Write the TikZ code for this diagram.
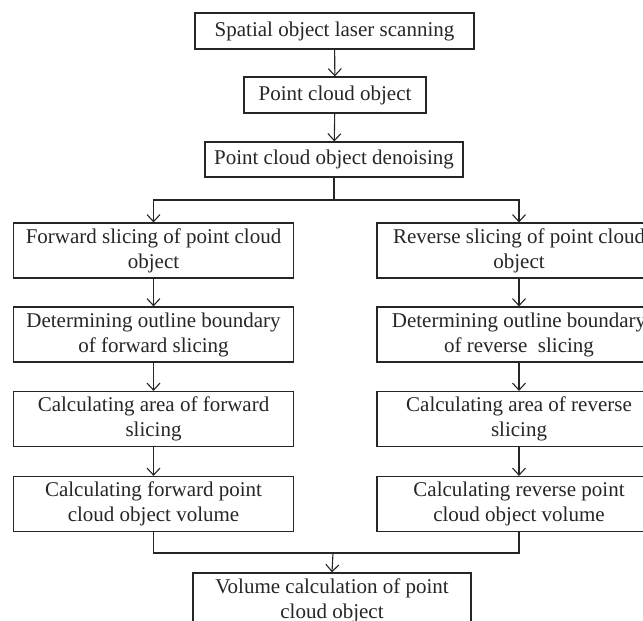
\documentclass[tikz,border=0pt]{standalone}
\usepackage{fontspec}
\setmainfont{Liberation Serif}
\usetikzlibrary{arrows.meta}
\begin{document}
\begin{tikzpicture}[x=1pt,y=-1pt,
  box/.style={draw=black!85, line width=1.2pt, inner sep=0pt, align=center,
    font=\fontsize{21}{25}\selectfont, text=black!85},
  wbox/.style={box, minimum width=280pt, minimum height=55pt},
  arr/.style={draw=black!85, line width=1.1pt, -{Straight Barb[length=7pt,width=13pt,line width=1.1pt]}},
  ln/.style={draw=black!85, line width=1.1pt}]
\useasboundingbox (0,0) rectangle (643,621);
\clip (0,0) rectangle (643,621);
\fill[white] (0,0) rectangle (643,621);
\node[box, minimum width=279pt, minimum height=36pt] (b1) at (334.5,31) {Spatial object laser scanning};
\node[box, minimum width=182pt, minimum height=36pt] (b2) at (335,95) {Point cloud object};
\node[box, minimum width=258pt, minimum height=35pt] (b3) at (334,159.5) {Point cloud object denoising};
\node[wbox] (l1) at (153.5,250.5) {Forward slicing of point cloud\\object};
\node[wbox] (l2) at (153.5,334.5) {Determining outline boundary\\of forward slicing};
\node[wbox] (l3) at (153.5,419) {Calculating area of forward\\slicing};
\node[wbox] (l4) at (153.5,504) {Calculating forward point\\cloud object volume};
\node[wbox, minimum width=284pt] (r1) at (519,250.5) {Reverse slicing of point cloud\\object};
\node[wbox, minimum width=284pt] (r2) at (519,334.5) {Determining outline boundary\\of reverse\ \ slicing};
\node[wbox, minimum width=284pt] (r3) at (519,419) {Calculating area of reverse\\slicing};
\node[wbox, minimum width=284pt] (r4) at (519,504) {Calculating reverse point\\cloud object volume};
\node[wbox, minimum width=278pt] (bt) at (332,600.5) {Volume calculation of point\\cloud object};
\coordinate (sp) at (334,200);
\coordinate (mg) at (333,553);
\draw[arr] (b1) -- (b2);
\draw[arr] (b2) -- (b3);
\draw[ln] (b3.south) -- (sp);
\draw[arr] (sp) -| (l1.north);
\draw[arr] (sp) -| (r1.north);
\draw[arr] (l1) -- (l2);
\draw[arr] (l2) -- (l3);
\draw[arr] (l3) -- (l4);
\draw[arr] (r1) -- (r2);
\draw[arr] (r2) -- (r3);
\draw[arr] (r3) -- (r4);
\draw[ln] (l4.south) |- (mg);
\draw[ln] (r4.south) |- (mg);
\draw[arr] (mg) -- (bt.north);
\end{tikzpicture}
\end{document}
